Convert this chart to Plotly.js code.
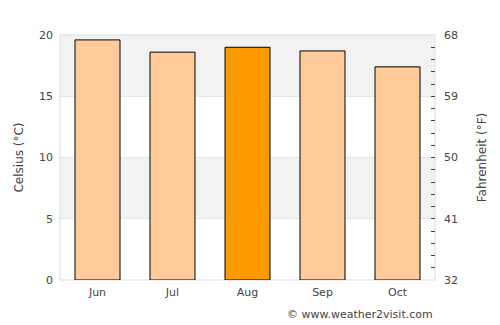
<!DOCTYPE html>
<html><head><meta charset="utf-8">
<script src="https://cdn.plot.ly/plotly-3.0.1.min.js"></script>
<style>body{margin:0}#c{width:500px;height:325px}</style>
</head><body><div id="c"></div>
<script>
const months = ['Jun','Jul','Aug','Sep','Oct'];
const celsius = [19.6, 18.6, 19.0, 18.7, 17.4];
const barColors = ['#ffcc99','#ffcc99','#ff9900','#ffcc99','#ffcc99'];
const fTicks = [32, 41, 50, 59, 68];
const bands = [[5,10],[15,20]];

const font = {family: 'DejaVu Sans, sans-serif', size: 11, color: '#444'};
const titleFont = {family: 'DejaVu Sans, sans-serif', size: 12, color: '#444'};
const shapes = bands.map(b => ({type:'rect', xref:'paper', yref:'y', x0:0, x1:1, y0:b[0], y1:b[1], fillcolor:'#f2f2f2', line:{width:0}, layer:'below'}));
shapes.push({type:'rect', xref:'paper', yref:'paper', x0:0, x1:1, y0:0, y1:1, line:{color:'#dddddd', width:1}, layer:'below'});

Plotly.newPlot('c', [
  {type:'bar', x: months, y: celsius, marker:{color: barColors, line:{color:'#000', width:1}}, width:0.6, hoverinfo:'none'},
  {type:'scatter', x: months, y: celsius.map(c => c*1.8+32), yaxis:'y2', mode:'none', hoverinfo:'none', showlegend:false}
], {
  width: 500, height: 325,
  margin: {l:60, r:65, t:35, b:45},
  paper_bgcolor: '#fff', plot_bgcolor: 'rgba(0,0,0,0)',
  font: font, showlegend: false, bargap: 0.4,
  shapes: shapes,
  xaxis: {showgrid:false, zeroline:false, showline:false, ticks:'', tickfont: font, ticklabelstandoff: 4},
  yaxis: {range:[0,20], tickvals:[0,5,10,15,20], showgrid:true, gridcolor:'#e6e6e6', zeroline:false, showline:false, ticks:'', ticklabelstandoff: 6, tickfont: font,
          title:{text:'Celsius (°C)', font: titleFont, standoff: 12}},
  yaxis2: {overlaying:'y', side:'right', range:[32,68], tickvals: fTicks, showgrid:false, zeroline:false, showline:false,
           ticks:'inside', ticklen:4, tickcolor:'#444', tickfont: font, ticklabelstandoff: 8,
           minor:{tick0:32, dtick:1.8, ticks:'inside', ticklen:4, tickcolor:'#444', showgrid:false},
           title:{text:'Fahrenheit (°F)', font: titleFont, standoff: 20}},
  annotations: [{text:'© www.weather2visit.com', xref:'paper', yref:'paper', x:1, y:0, xanchor:'right', yanchor:'top', yshift:-26, showarrow:false, font:{family:'DejaVu Sans, sans-serif', size:11, color:'#444'}}]
}, {staticPlot:true});
</script></body></html>
